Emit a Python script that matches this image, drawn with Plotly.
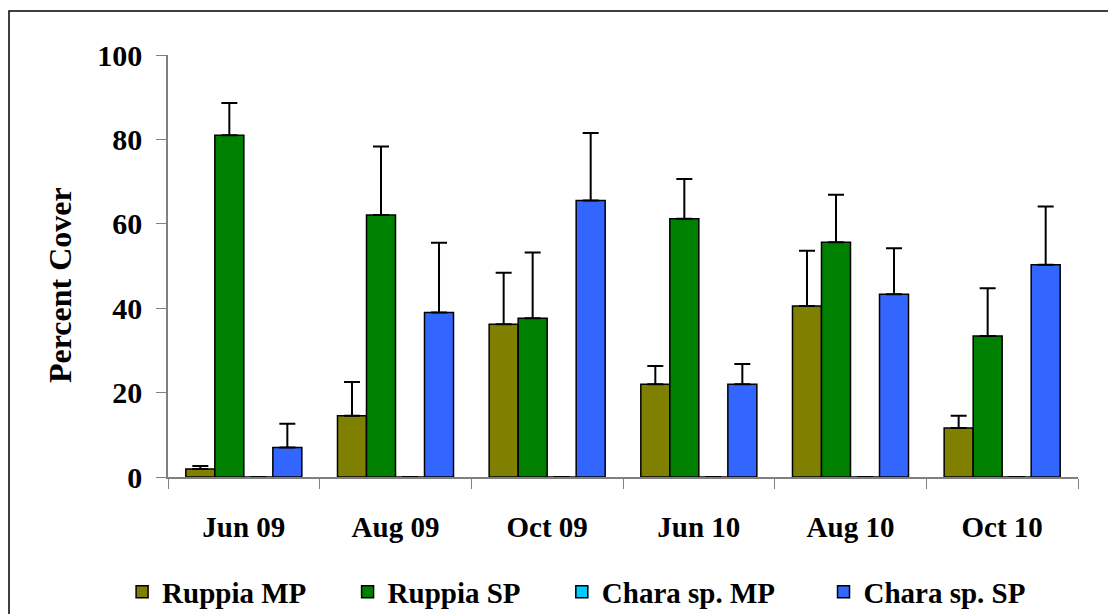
import plotly.graph_objects as go

months = ["Jun 09", "Aug 09", "Oct 09", "Jun 10", "Aug 10", "Oct 10"]

ruppia_mp = [1.9, 14.5, 36.2, 22.0, 40.5, 11.6]
ruppia_mp_err = [0.7, 8.0, 12.2, 4.3, 13.1, 2.9]
ruppia_sp = [81.0, 62.1, 37.6, 61.2, 55.6, 33.4]
ruppia_sp_err = [7.6, 16.2, 15.6, 9.4, 11.3, 11.3]
chara_mp = [0, 0, 0, 0, 0, 0]
chara_mp_err = [0, 0, 0, 0, 0, 0]
chara_sp = [7.0, 39.0, 65.5, 22.0, 43.3, 50.3]
chara_sp_err = [5.6, 16.5, 16.0, 4.8, 10.9, 13.8]

series = [
    ("Ruppia MP", ruppia_mp, ruppia_mp_err, "#808000"),
    ("Ruppia SP", ruppia_sp, ruppia_sp_err, "#008000"),
    ("Chara sp. MP", chara_mp, chara_mp_err, "#00CCFF"),
    ("Chara sp. SP", chara_sp, chara_sp_err, "#3366FF"),
]
# extra padding after each legend entry (nbsp count)
legend_pad = [5, 5, 6, 0]

font = "Liberation Serif, Times New Roman, serif"

fig = go.Figure()
for (name, vals, errs, color), pad in zip(series, legend_pad):
    fig.add_trace(go.Bar(
        x=months, y=vals, name=name + "\u00a0" * pad,
        marker=dict(color=color, line=dict(color="black", width=1.5)),
        error_y=dict(type="data", array=errs, arrayminus=[0] * len(errs),
                     symmetric=False, color="black", thickness=2, width=8),
    ))

# page body has an 8px margin, so plot area is placed 8px up/left
L, T, W, H = 160, 47, 910, 422

# frame around the whole chart
fig.add_shape(type="rect", xref="paper", yref="paper",
              x0=(1 - L) / W, x1=1.2, y0=-0.6, y1=(T + H - 3) / H,
              line=dict(color="black", width=1.5), fillcolor="rgba(0,0,0,0)",
              layer="below")

# y axis title as an annotation so it can sit a bit below the middle
fig.add_annotation(text="Percent Cover", textangle=-90, showarrow=False,
                   xref="paper", yref="paper", x=(52 - L) / W, y=(T + H - 277) / H,
                   xanchor="center", yanchor="middle",
                   font=dict(family=font, size=32, color="black", weight="bold"))

fig.update_layout(
    width=1116, height=614,
    margin=dict(l=L, r=1116 - L - W, t=T, b=614 - T - H, autoexpand=False),
    plot_bgcolor="white", paper_bgcolor="white",
    barmode="group", bargap=0.235, bargroupgap=0,
    font=dict(family=font, size=24, color="black", weight="bold"),
    showlegend=True,
    legend=dict(orientation="h", x=0.449, xanchor="center",
                yref="container", y=1 - 584 / 614, yanchor="middle",
                font=dict(family=font, size=29, color="black", weight="bold"),
                traceorder="normal"),
    xaxis=dict(showline=True, linecolor="#808080", linewidth=1.5,
               ticks="outside", tickson="boundaries", ticklen=10, tickcolor="#808080",
               tickfont=dict(family=font, size=29, color="black", weight="bold"),
               ticklabelstandoff=23, showgrid=False),
    yaxis=dict(range=[0, 100], tickvals=[0, 20, 40, 60, 80, 100],
               showline=True, linecolor="#808080", linewidth=1.5,
               ticks="outside", ticklen=10, tickcolor="#808080",
               tickfont=dict(family=font, size=30, color="black", weight="bold"),
               ticklabelstandoff=8,
               showgrid=False, zeroline=False),
)

fig.write_html("out.html")
